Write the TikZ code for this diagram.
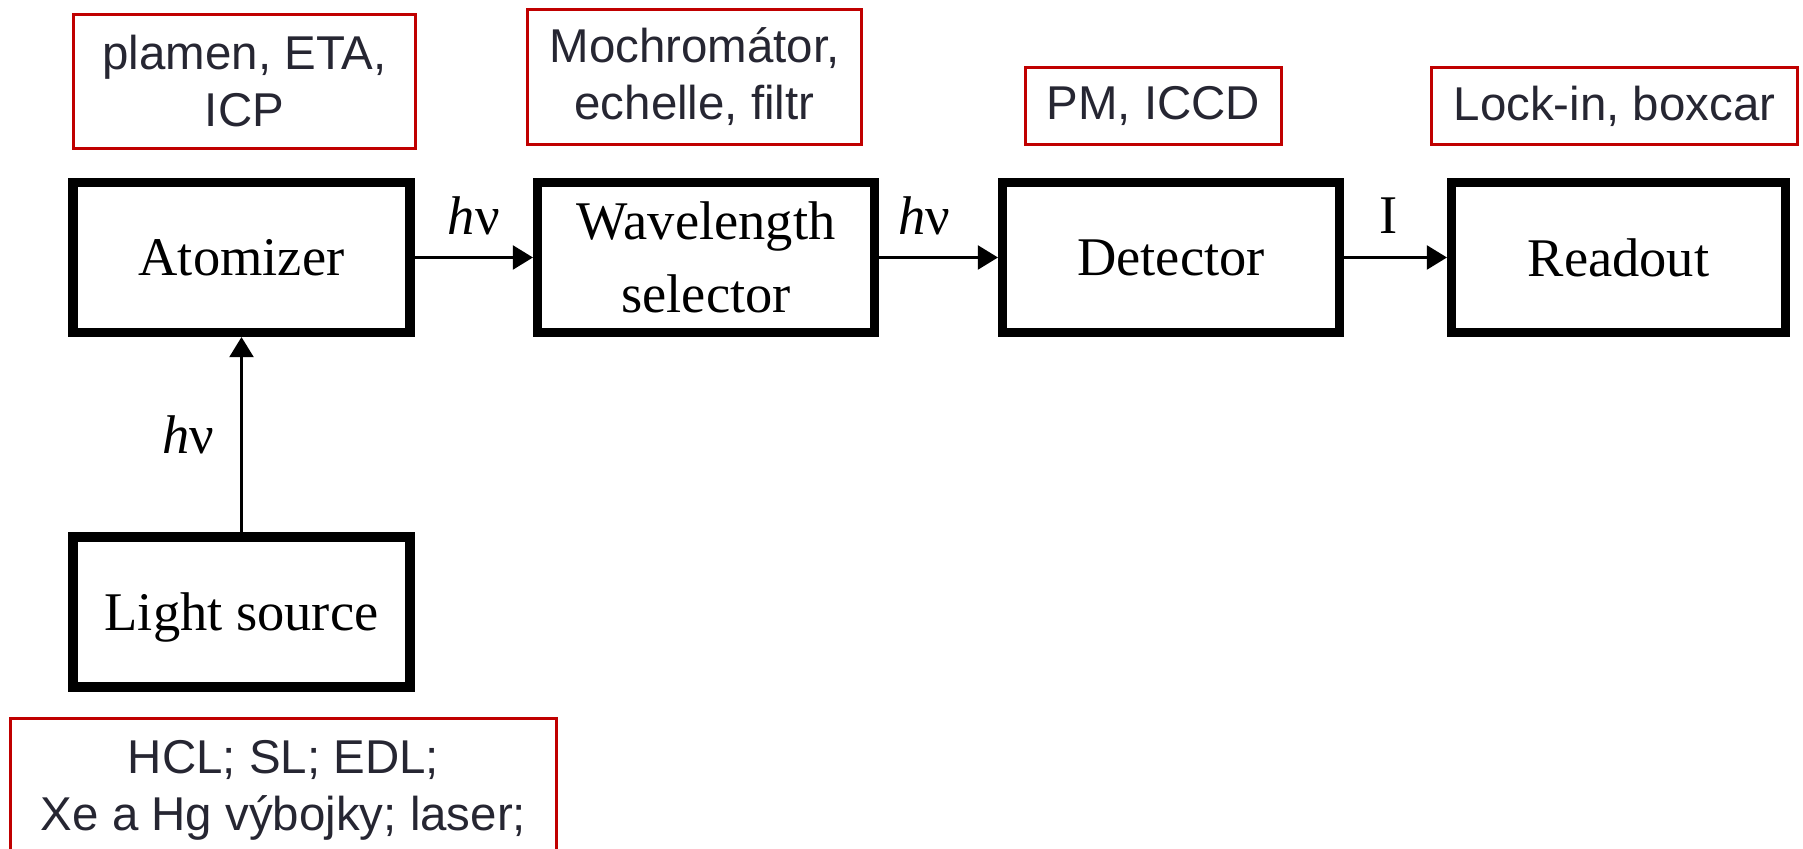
\documentclass[tikz,border=0pt]{standalone}
\usepackage{fontspec}
\setmainfont{Liberation Serif}
\newfontfamily\notefont{Liberation Sans}
\usetikzlibrary{arrows.meta}
\definecolor{notered}{RGB}{192,0,0}
\definecolor{notetext}{RGB}{38,38,50}
\begin{document}
\begin{tikzpicture}[x=.1mm,y=-.1mm,>={Triangle[length=5.7pt,width=6.8pt]},
	block/.style={draw,line width=2.6pt,minimum width=33.7mm,minimum height=15mm,text depth=0pt,align=center,font=\fontsize{15.5}{20.8}\selectfont},
	note/.style={draw=notered,line width=.85pt,text=notetext,align=center,font=\notefont\fontsize{13.5}{16.2}\selectfont},
	lbl/.style={inner sep=0pt,font=\fontsize{15.5}{18}\selectfont}]
	\useasboundingbox (0,0) rectangle (1803,849);
	\clip (0,0) rectangle (1803,849);
	% blocks of the spectrometer
	\node[block] (atom) at (241.5,257.5) {Atomizer};
	\node[block] (sel) at (706,257.5) {Wavelength\\selector};
	\node[block] (det) at (1171,257.5) {Detector};
	\node[block,minimum width=33.4mm] (read) at (1618.5,257.5) {Readout};
	\node[block] (light) at (241.5,612) {Light source};
	% red notes
	\node[note,minimum width=34.2mm,minimum height=13.4mm] (natom) at (244.5,81.5) {plamen, ETA,\\ICP};
	\node[note,minimum width=33.4mm,minimum height=13.5mm] (nsel) at (694.5,77) {Mochromátor,\\echelle, filtr};
	\node[note,minimum width=25.6mm,minimum height=7.7mm] (ndet) at (1153.5,106) {PM, ICCD};
	\node[note,minimum width=36.6mm,minimum height=7.7mm] (nread) at (1614.5,106) {Lock-in, boxcar};
	\node[note,anchor=north,minimum width=54.6mm,inner ysep=6pt,text depth=12pt] (nlight) at (283.5,717.5) {HCL; SL; EDL;\\Xe a Hg výbojky; laser;};
	% connectors
	\draw[->,line width=.7pt] (atom) -- node[lbl,above=6pt] (nu1) {\textit{h}ν} (sel);
	\draw[->,line width=.7pt] (sel) -- node[lbl,above=6pt,xshift=-4pt] (nu2) {\textit{h}ν} (det);
	\draw[->,line width=.7pt] (det) -- node[lbl,above=6.5pt,xshift=-2pt] (cur) {I} (read);
	\draw[->,line width=.7pt] (light) -- node[lbl,left=7.5pt] (nu0) {\textit{h}ν} (atom);
\end{tikzpicture}
\end{document}
